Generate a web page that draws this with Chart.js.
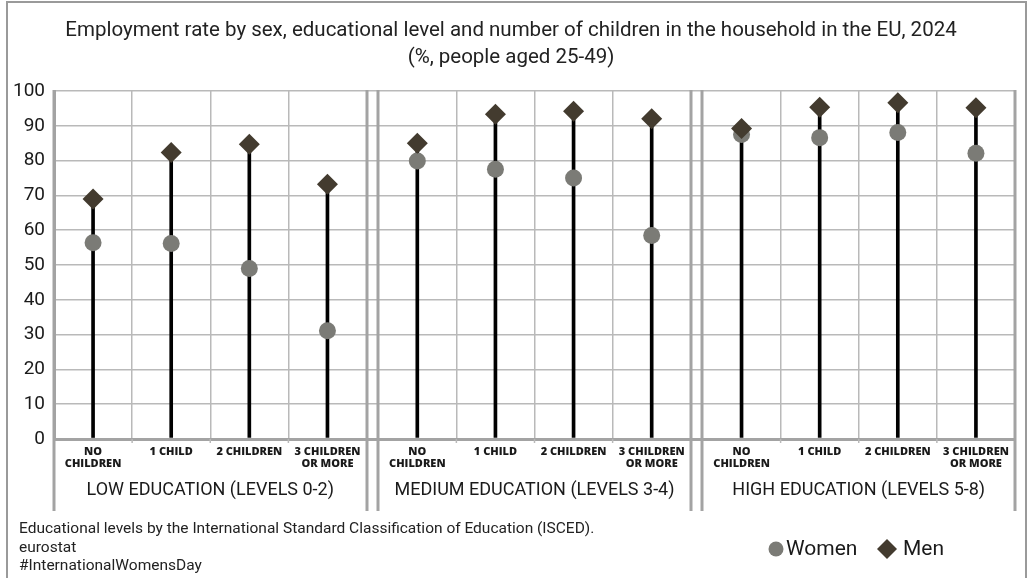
<!DOCTYPE html>
<html>
<head>
<meta charset="utf-8">
<script src="https://cdn.jsdelivr.net/npm/chart.js@4/dist/chart.umd.min.js"></script>
<style>
  html, body { margin: 0; padding: 0; background: #fff; }
  #wrap { width: 1028px; height: 578px; position: relative; }
</style>
</head>
<body>
<div id="wrap"><canvas id="empChart"></canvas></div>
<script>
// employment rate (%), people aged 25-49, EU 2024
var groups = ['LOW EDUCATION (LEVELS 0-2)', 'MEDIUM EDUCATION (LEVELS 3-4)', 'HIGH EDUCATION (LEVELS 5-8)'];
var children = [['NO', 'CHILDREN'], ['1 CHILD'], ['2 CHILDREN'], ['3 CHILDREN', 'OR MORE']];
var women = [56.4, 56.2, 49.0, 31.1,   79.9, 77.5, 75.0, 58.5,   87.5, 86.6, 88.1, 82.1];
var men   = [69.0, 82.3, 84.7, 73.2,   85.0, 93.3, 94.2, 92.0,   89.2, 95.3, 96.6, 95.2];
var yTicks = [0, 10, 20, 30, 40, 50, 60, 70, 80, 90, 100];

var GAP = 0.15;           // space between education blocks, in category units
var PER_GROUP = children.length;

function xPos(idx) {
    var g = Math.floor(idx / PER_GROUP);
    var i = idx % PER_GROUP;
    return g * (PER_GROUP + GAP) + i + 0.5;
}

// boundaries of every category cell, flagged when they close a block
var edges = [];
for (var g = 0; g < groups.length; g++) {
    for (var k = 0; k <= PER_GROUP; k++) {
        edges.push({ value: g * (PER_GROUP + GAP) + k, block: (k === 0 || k === PER_GROUP) });
    }
}

var womenPts = women.map(function(v, i) { return { x: xPos(i), y: v }; });
var menPts = men.map(function(v, i) { return { x: xPos(i), y: v }; });

var FONT = 'Roboto, "Noto Sans", sans-serif';
var AXIS_GREY = '#a3a3a3';
var GRID_GREY = '#b9b9b9';

var decorations = {
    id: 'decorations',
    afterDraw: function(chart) {
        var c = chart.ctx;
        var xs = chart.scales.x;
        var area = chart.chartArea;
        var bottom = area.bottom + 72;

        c.save();
        // block borders run down through the label rows
        c.strokeStyle = AXIS_GREY;
        c.lineWidth = 3;
        edges.forEach(function(e) {
            if (!e.block) return;
            var px = Math.round(xs.getPixelForValue(e.value));
            c.beginPath();
            c.moveTo(px, area.top - 1);
            c.lineTo(px, bottom);
            c.stroke();
        });

        // small ticks under the zero line
        c.strokeStyle = GRID_GREY;
        c.lineWidth = 1.5;
        edges.forEach(function(e) {
            if (e.block) return;
            var px = xs.getPixelForValue(e.value);
            c.beginPath();
            c.moveTo(px, area.bottom);
            c.lineTo(px, area.bottom + 4);
            c.stroke();
        });

        // category labels
        c.fillStyle = '#1a1a1a';
        c.textAlign = 'center';
        c.textBaseline = 'middle';
        c.font = '800 11px "Open Sans", sans-serif';
        for (var i = 0; i < women.length; i++) {
            var lines = children[i % PER_GROUP];
            var cx = xs.getPixelForValue(xPos(i));
            lines.forEach(function(t, n) {
                c.fillText(t, cx, area.bottom + 13 + n * 12);
            });
        }

        // education block labels
        c.font = '18px ' + FONT;
        groups.forEach(function(name, g) {
            var mid = xs.getPixelForValue(g * (PER_GROUP + GAP) + PER_GROUP / 2);
            c.fillText(name, mid, area.bottom + 51);
        });

        // title
        c.fillStyle = '#222';
        c.font = '20.5px ' + FONT;
        c.fillText('Employment rate by sex, educational level and number of children in the household in the EU, 2024', 511, 31);
        c.fillText('(%, people aged 25-49)', 511, 58);

        // notes
        c.textAlign = 'left';
        c.font = '15.5px ' + FONT;
        c.fillText('Educational levels by the International Standard Classification of Education (ISCED).', 19, 529);
        c.fillText('eurostat', 19, 548);
        c.fillText('#InternationalWomensDay', 19, 566);

        // legend
        c.fillStyle = '#7b7b76';
        c.beginPath();
        c.arc(776, 549, 7.5, 0, Math.PI * 2);
        c.fill();
        c.fillStyle = '#433b2f';
        c.beginPath();
        c.moveTo(877, 549);
        c.lineTo(887, 539);
        c.lineTo(897, 549);
        c.lineTo(887, 559);
        c.closePath();
        c.fill();
        c.fillStyle = '#1a1a1a';
        c.font = '21px ' + FONT;
        c.fillText('Women', 786, 550);
        c.fillText('Men', 903, 550);

        // frame
        c.strokeStyle = '#9a9a9a';
        c.lineWidth = 2;
        c.beginPath();
        c.moveTo(7, 578);
        c.lineTo(7, 2);
        c.lineTo(1026, 2);
        c.lineTo(1026, 578);
        c.stroke();
        c.restore();
    }
};

new Chart(document.getElementById('empChart'), {
    type: 'bar',
    data: {
        datasets: [{
            type: 'scatter',
            label: 'Men',
            data: menPts,
            pointStyle: 'rectRot',
            pointRadius: 10.5,
            pointHoverRadius: 10.5,
            backgroundColor: '#433b2f',
            borderColor: '#433b2f',
            borderWidth: 0
        }, {
            type: 'scatter',
            label: 'Women',
            data: womenPts,
            pointStyle: 'circle',
            pointRadius: 8.5,
            pointHoverRadius: 8.5,
            backgroundColor: '#7b7b76',
            borderColor: '#7b7b76',
            borderWidth: 0
        }, {
            type: 'bar',
            label: 'stem',
            data: menPts,
            backgroundColor: '#000',
            barThickness: 3
        }]
    },
    options: {
        responsive: true,
        maintainAspectRatio: false,
        animation: false,
        layout: { padding: { left: 0, right: 13, top: 91, bottom: 67 } },
        plugins: {
            legend: { display: false },
            tooltip: { enabled: false },
            title: { display: false }
        },
        scales: {
            x: {
                type: 'linear',
                min: 0,
                max: groups.length * PER_GROUP + (groups.length - 1) * GAP,
                offset: false,
                afterBuildTicks: function(scale) {
                    scale.ticks = edges.map(function(e) { return { value: e.value }; });
                },
                afterFit: function(scale) { scale.height = 72; },
                ticks: { display: false },
                border: { display: false },
                grid: {
                    offset: false,
                    drawTicks: false,
                    color: function(ctx) {
                        return edges[ctx.index] && edges[ctx.index].block ? 'rgba(0,0,0,0)' : GRID_GREY;
                    },
                    lineWidth: 1.5
                }
            },
            y: {
                min: 0,
                max: 100,
                afterBuildTicks: function(scale) {
                    scale.ticks = yTicks.map(function(v) { return { value: v }; });
                },
                afterFit: function(scale) { scale.width = 54; },
                ticks: {
                    padding: 9,
                    color: '#1a1a1a',
                    font: { family: FONT, size: 19 }
                },
                border: { display: true, color: AXIS_GREY, width: 3 },
                grid: {
                    drawTicks: false,
                    color: function(ctx) { return ctx.tick && ctx.tick.value === 0 ? AXIS_GREY : GRID_GREY; },
                    lineWidth: function(ctx) { return ctx.tick && ctx.tick.value === 0 ? 3 : 1.5; }
                }
            }
        }
    },
    plugins: [decorations]
});
</script>
</body>
</html>
